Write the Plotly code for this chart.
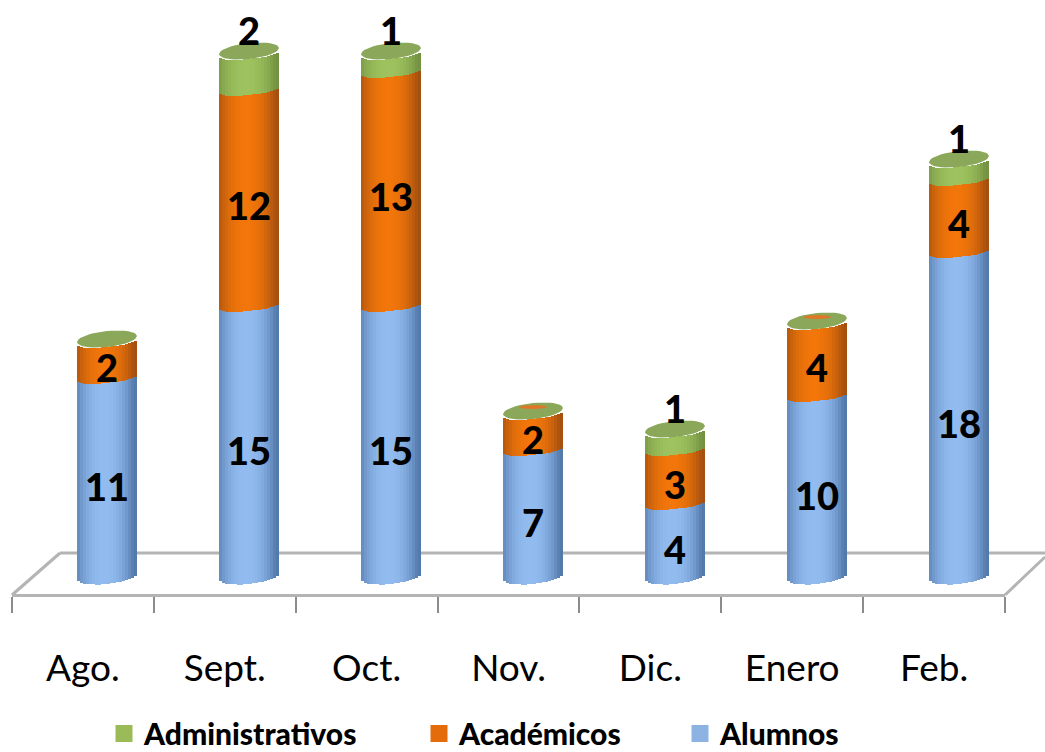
import math
import plotly.graph_objects as go

months = ["Ago.", "Sept.", "Oct.", "Nov.", "Dic.", "Enero", "Feb."]
alumnos = [11, 15, 15, 7, 4, 10, 18]
academicos = [2, 12, 13, 2, 3, 4, 4]
administrativos = [0, 2, 1, 0, 1, 0, 1]
flecked_caps = ["Nov.", "Enero"]

W, H = 1045, 752
PX_PER_UNIT = 18.0      # vertical pixels per person
ZERO_PX = 576           # page row of the value axis zero
SPACING_PX = 142        # distance between cylinders
RADIUS_PX = 30          # half width of a cylinder
STRIPS = 20             # vertical slices used to shade each cylinder
ARC_PX, TILT_PX, BASE_ARC_PX = 5, 3, 8
CAP_RY_PX, CAP_LIFT_PX = 8, 3

BLUE = ((84, 122, 172), (146, 188, 240))
ORANGE = ((165, 80, 14), (242, 118, 10))
GREEN = ((116, 146, 66), (158, 194, 94))
CAP_GREEN = "rgb(138,167,90)"
CAP_ORANGE = "rgb(222,120,40)"
FLOOR = "#b4b4b4"
SWATCHES = {"Alumnos": "#8db3e2", "Académicos": "#e46c0a", "Administrativos": "#9bbb59"}


def shade(pair, u):
    # lit slightly left of centre, falling off towards both edges
    t = max(0.0, 1 - abs(u + 0.1) ** 2.2)
    return "rgb(%d,%d,%d)" % tuple(round(a + (b - a) * t) for a, b in zip(*pair))


def arc(u, depth):
    # front edge of the cylinder at normalised position u, in value units
    return (-depth * math.sqrt(max(0, 1 - u * u)) + TILT_PX * u) / PX_PER_UNIT


fig = go.Figure()

cum_a = list(alumnos)
cum_b = [a + b for a, b in zip(alumnos, academicos)]
totals = [a + b for a, b in zip(cum_b, administrativos)]
strip_w = 2 * RADIUS_PX / STRIPS / SPACING_PX
series = [
    ("Alumnos", alumnos, [0] * 7, BLUE),
    ("Académicos", academicos, cum_a, ORANGE),
    ("Administrativos", administrativos, cum_b, GREEN),
]

for k in range(STRIPS):
    u = (k + 0.5) / STRIPS * 2 - 1
    for name, values, below, colors in series:
        depth_low = BASE_ARC_PX if name == "Alumnos" else ARC_PX
        low = arc(u, depth_low)
        high = arc(u, ARC_PX)
        fig.add_trace(go.Bar(
            x=list(range(7)),
            y=[v + high - low if v else 0 for v in values],
            base=[b + low for b in below],
            width=strip_w,
            offset=-RADIUS_PX / SPACING_PX + k * strip_w,
            marker=dict(color=shade(colors, u), line=dict(width=0)),
            name=name,
            showlegend=False,
            hoverinfo="skip",
        ))

# one legend per series, so each key can sit at its own position
for name, legend in [("Administrativos", "legend"), ("Académicos", "legend2"), ("Alumnos", "legend3")]:
    fig.add_trace(go.Bar(
        x=[None], y=[None], name=name, legend=legend, showlegend=True,
        marker=dict(color=SWATCHES[name], line=dict(color=SWATCHES[name], width=5)),
    ))

# top faces of the cylinders
cap_x, cap_y, fleck_x, fleck_y = [], [], [], []
for i, total in enumerate(totals):
    for n in range(41):
        t = 2 * math.pi * n / 40
        cap_x.append(i + RADIUS_PX / SPACING_PX * math.cos(t))
        cap_y.append(total + (CAP_LIFT_PX + CAP_RY_PX * math.sin(t) + TILT_PX * math.cos(t)) / PX_PER_UNIT)
        if months[i] in flecked_caps:
            fleck_x.append(i + 14 / SPACING_PX * math.cos(t))
            fleck_y.append(total + (2 * math.sin(t) + 7) / PX_PER_UNIT)
    cap_x.append(None)
    cap_y.append(None)
    fleck_x.append(None)
    fleck_y.append(None)
fig.add_trace(go.Scatter(x=cap_x, y=cap_y, mode="lines", line=dict(width=0),
                         fill="toself", fillcolor=CAP_GREEN, showlegend=False, hoverinfo="skip"))
fig.add_trace(go.Scatter(x=fleck_x, y=fleck_y, mode="lines", line=dict(width=0),
                         fill="toself", fillcolor=CAP_ORANGE, showlegend=False, hoverinfo="skip"))

# category axis carrying the month names and the floor ticks
fig.add_trace(go.Scatter(x=months, y=[None] * 7, xaxis="x2", mode="markers",
                         showlegend=False, hoverinfo="skip"))

label_font = dict(family="Lato, Carlito, sans-serif", size=38, color="black", weight=900)
for i in range(7):
    fig.add_annotation(x=i, y=alumnos[i] / 2, text=str(alumnos[i]), showarrow=False,
                       yshift=-9, font=label_font)
    fig.add_annotation(x=i, y=cum_a[i] + academicos[i] / 2, text=str(academicos[i]),
                       showarrow=False, yshift=-7, font=label_font)
    if administrativos[i]:
        fig.add_annotation(x=i, y=totals[i], text=str(administrativos[i]), showarrow=False,
                           yshift=24, font=label_font)


def px(x):
    return x / W


def py(y):
    return 1 - y / H


# floor of the 3D box, behind the cylinders
for x0, y0, x1, y1 in [(60, 553, 1045, 553), (12, 595, 60, 553), (1005, 595, 1045, 557)]:
    fig.add_shape(type="line", xref="paper", yref="paper", layer="below",
                  x0=px(x0), y0=py(y0), x1=px(x1), y1=py(y1),
                  line=dict(color=FLOOR, width=3))

legend_common = dict(orientation="h", xanchor="left", yanchor="middle", y=py(733.5),
                     bgcolor="rgba(0,0,0,0)", borderwidth=0,
                     font=dict(family="Lato, Carlito, sans-serif", size=30, color="black", weight=900))

fig.update_layout(
    width=W, height=H,
    margin=dict(l=0, r=0, t=0, b=0, autoexpand=False),
    autosize=False,
    paper_bgcolor="white", plot_bgcolor="rgba(0,0,0,0)",
    barmode="overlay",
    bargap=0,
    xaxis=dict(domain=[(107 - 71) / W, (959 + 71) / W], range=[-0.5, 6.5], visible=False,
               fixedrange=True),
    xaxis2=dict(domain=[12 / W, 1005 / W], type="category", categoryorder="array",
                categoryarray=months, range=[-0.5, 6.5], anchor="free", position=py(595),
                side="bottom", tickson="boundaries", ticks="outside", ticklen=16, tickwidth=2,
                tickcolor="#8c8c8c", showline=True, linecolor=FLOOR, linewidth=3,
                showgrid=False, ticklabelstandoff=40,
                tickfont=dict(family="Lato, Carlito, sans-serif", size=37, color="black")),
    yaxis=dict(domain=[0, 1], range=[(ZERO_PX - H) / PX_PER_UNIT, ZERO_PX / PX_PER_UNIT],
               visible=False, fixedrange=True),
    legend=dict(x=px(104), **legend_common),
    legend2=dict(x=px(419), **legend_common),
    legend3=dict(x=px(680), **legend_common),
)

fig.write_html("out.html", config=dict(displayModeBar=False))
